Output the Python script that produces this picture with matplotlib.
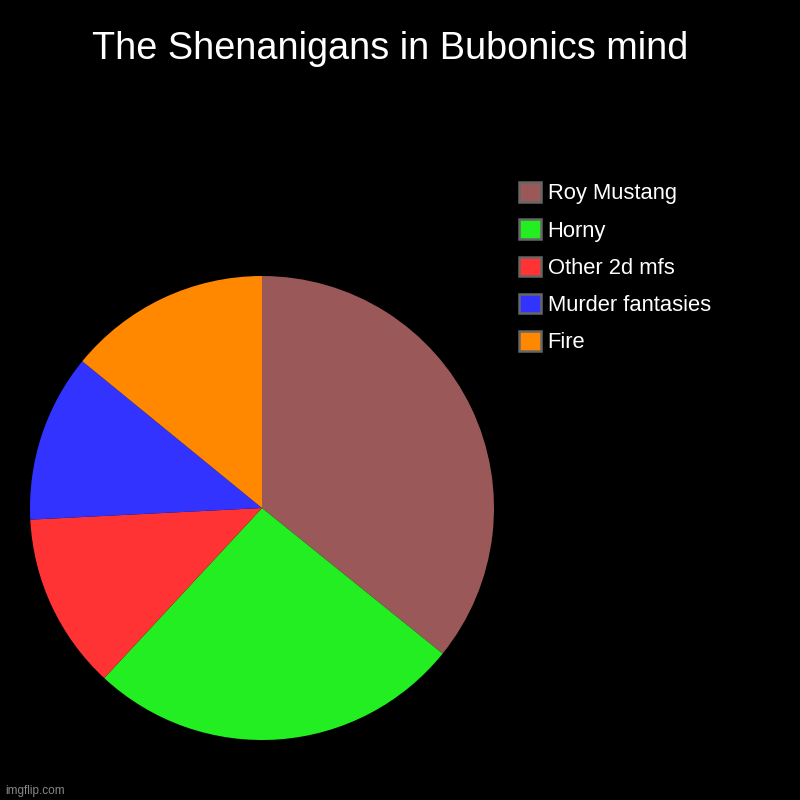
import matplotlib
matplotlib.use("Agg")
import matplotlib.pyplot as plt
from matplotlib.patches import Patch

labels = ["Roy Mustang", "Horny", "Other 2d mfs", "Murder fantasies", "Fire"]
values = [35.8, 26.1, 12.3, 11.7, 14.1]
colors = ["#9b5858", "#22ee22", "#ff3333", "#3333ff", "#ff8800"]

plt.rcParams['font.family'] = ['Liberation Sans', 'DejaVu Sans']

fig = plt.figure(figsize=(8, 8), dpi=100, facecolor="black")
ax = fig.add_axes([30/800, 1-(508+232)/800, 464/800, 464/800])
ax.set_facecolor("black")
ax.pie(values, colors=colors, startangle=90, counterclock=False, radius=1,
       wedgeprops=dict(linewidth=0))
ax.set_xlim(-1, 1)
ax.set_ylim(-1, 1)
ax.set_aspect("equal")
ax.axis("off")

fig.text(390/800, 1-49/800, "The Shenanigans in Bubonics mind", color="white",
         fontsize=27.3, ha="center", va="center")

handles = [Patch(facecolor=c, edgecolor="#666666", linewidth=1.8) for c in colors]
leg = fig.legend(handles, labels, loc="upper left", bbox_to_anchor=(519/800, 1-182/800),
                 frameon=False, fontsize=15.8, labelcolor="white",
                 handlelength=1.0, handleheight=1.0, handletextpad=0.3,
                 labelspacing=0.68, borderpad=0, borderaxespad=0)

fig.text(5/800, 1-791/800, "imgflip.com", color="#888888", fontsize=8.5,
         ha="left", va="center")

fig.savefig("out.png", dpi=100, facecolor="black")
